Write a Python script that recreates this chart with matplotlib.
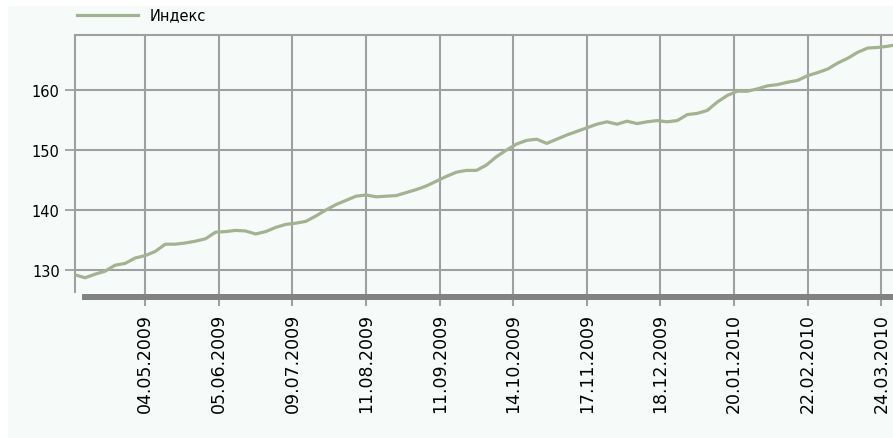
import numpy as np
from matplotlib import pyplot as plt
from matplotlib.patches import Rectangle

# index value, read every 3 trading days
index_values = [129.2, 128.7, 129.3, 129.8, 130.8, 131.1, 132.0, 132.4, 133.1, 134.3,
                134.3, 134.5, 134.8, 135.2, 136.3, 136.4, 136.6, 136.5, 136.0, 136.4,
                137.1, 137.6, 137.8, 138.1, 139.0, 140.0, 140.9, 141.6, 142.3, 142.5,
                142.2, 142.3, 142.4, 142.9, 143.4, 144.0, 144.8, 145.6, 146.3, 146.6,
                146.6, 147.5, 148.9, 150.0, 151.0, 151.6, 151.8, 151.1, 151.8, 152.5,
                153.1, 153.7, 154.3, 154.7, 154.3, 154.8, 154.4, 154.7, 154.9, 154.7,
                154.9, 155.9, 156.1, 156.6, 158.0, 159.1, 159.8, 159.8, 160.2, 160.7,
                160.9, 161.3, 161.6, 162.4, 162.9, 163.5, 164.5, 165.3, 166.3, 167.0,
                167.1, 167.3, 167.6]
step = 3
tick_labels = ['04.05.2009', '05.06.2009', '09.07.2009', '11.08.2009', '11.09.2009',
               '14.10.2009', '17.11.2009', '18.12.2009', '20.01.2010', '22.02.2010',
               '24.03.2010']
tick_pos = [21 + 22 * i for i in range(len(tick_labels))]
y_ticks = [130, 140, 150, 160]

W, H = 893, 439
line_col = '#a3b290'
grid_col = '#a0a0a0'
bg = '#f6faf8'

fig = plt.figure(figsize=(W / 100, H / 100), dpi=100)
fig.patch.set_facecolor('white')
# light panel behind everything
fig.patches.append(Rectangle((8 / W, 0), 1, 1 - 7 / H, transform=fig.transFigure,
                             facecolor=bg, edgecolor='none', zorder=-10))

ax = fig.add_axes([75 / W, (H - 293) / H, (898 - 75) / W, (293 - 36) / H])
ax.set_facecolor(bg)

x = np.arange(len(index_values)) * step
ax.plot(x, index_values, color=line_col, linewidth=2.3, solid_capstyle='butt',
        zorder=3, clip_on=False)

ax.set_xlim(0, 246)
ax.set_ylim(126.33, 169.17)
ax.set_xticks(tick_pos)
ax.set_xticklabels(tick_labels, rotation=90, fontsize=12.5, family='DejaVu Sans')
ax.set_yticks(y_ticks)
ax.set_yticklabels([str(v) for v in y_ticks], fontsize=10.5, family='DejaVu Sans')
ax.grid(True, color=grid_col, linewidth=1.5)
ax.tick_params(axis='y', length=7, width=1.3, color=grid_col, pad=4)
ax.tick_params(axis='x', length=10, width=1.5, color=grid_col, pad=5)

for side in ['right', 'bottom']:
    ax.spines[side].set_visible(False)
for side in ['left', 'top']:
    ax.spines[side].set_color(grid_col)
    ax.spines[side].set_linewidth(1.5)

# grey floor under the plot
fig.patches.append(Rectangle((82 / W, (H - 301) / H), 1, 6 / H, transform=fig.transFigure,
                             facecolor='#828282', edgecolor='none', zorder=5))

# legend
fig.lines.append(plt.Line2D([77 / W, 138 / W], [1 - 16 / H, 1 - 16 / H],
                            transform=fig.transFigure, color=line_col, linewidth=2.3))
fig.text(150 / W, 1 - 16 / H, 'Индекс', fontsize=10.5, va='center', ha='left')

fig.savefig('out.png', dpi=100, facecolor=fig.get_facecolor())
